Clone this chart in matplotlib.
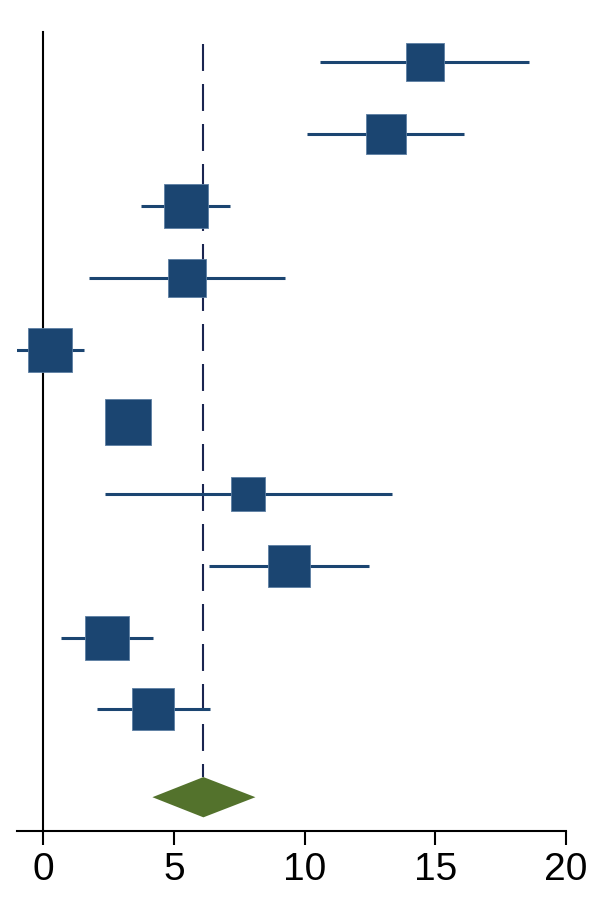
import numpy as np
import matplotlib.pyplot as plt

# study estimates, top row first
estimates = [14.6, 13.1, 5.45, 5.5, 0.25, 3.25, 7.85, 9.4, 2.45, 4.2]
ci_low = [10.6, 10.1, 3.75, 1.75, -1.05, 2.7, 2.35, 6.35, 0.7, 2.05]
ci_high = [18.6, 16.1, 7.15, 9.25, 1.55, 3.8, 13.35, 12.45, 4.2, 6.4]
weights = [38, 40, 44, 38, 44, 46, 34, 42, 44, 42]   # square side, px

pooled = 6.13
pooled_low = 4.18
pooled_high = 8.12

blue = '#1b4571'
green = '#53722c'

fig = plt.figure(figsize=(6.03, 9.14), dpi=100)
ax = fig.add_axes([17 / 603, 83 / 914, (566 - 17) / 603, (831 - 32) / 914])

rows = np.arange(len(estimates))
diamond_y = 10.22

ax.hlines(rows, ci_low, ci_high, color=blue, linewidth=2.2, zorder=2)
side_pt = np.array(weights) * 72 / 100
ax.scatter(estimates, rows, marker='s', s=side_pt ** 2, color=blue,
           edgecolors='#5d7fa3', linewidths=0.6, zorder=3)

# pooled estimate
ax.fill([pooled_low, pooled, pooled_high, pooled],
        [diamond_y, diamond_y - 0.28, diamond_y, diamond_y + 0.28],
        color=green, zorder=3, linewidth=0)
lw = 1.5
ax.vlines(pooled, -0.25, diamond_y - 0.28, color='#1a2550', linewidth=lw,
          linestyles=(0, (19.4 / lw, 9.4 / lw)), zorder=1)

ax.set_xlim(-1.0, 20)
ax.set_ylim(10.69, -0.42)
ax.spines['top'].set_visible(False)
ax.spines['right'].set_visible(False)
ax.spines['left'].set_position(('data', 0))
ax.spines['left'].set_linewidth(1.5)
ax.spines['bottom'].set_linewidth(1.5)
ax.set_yticks([])
ax.set_xticks([0, 5, 10, 15, 20])
ax.tick_params(axis='x', length=10, width=1.5, labelsize=28, pad=5)
for lab in ax.get_xticklabels():
    lab.set_family('Liberation Sans')

fig.savefig('out.png', dpi=100)
